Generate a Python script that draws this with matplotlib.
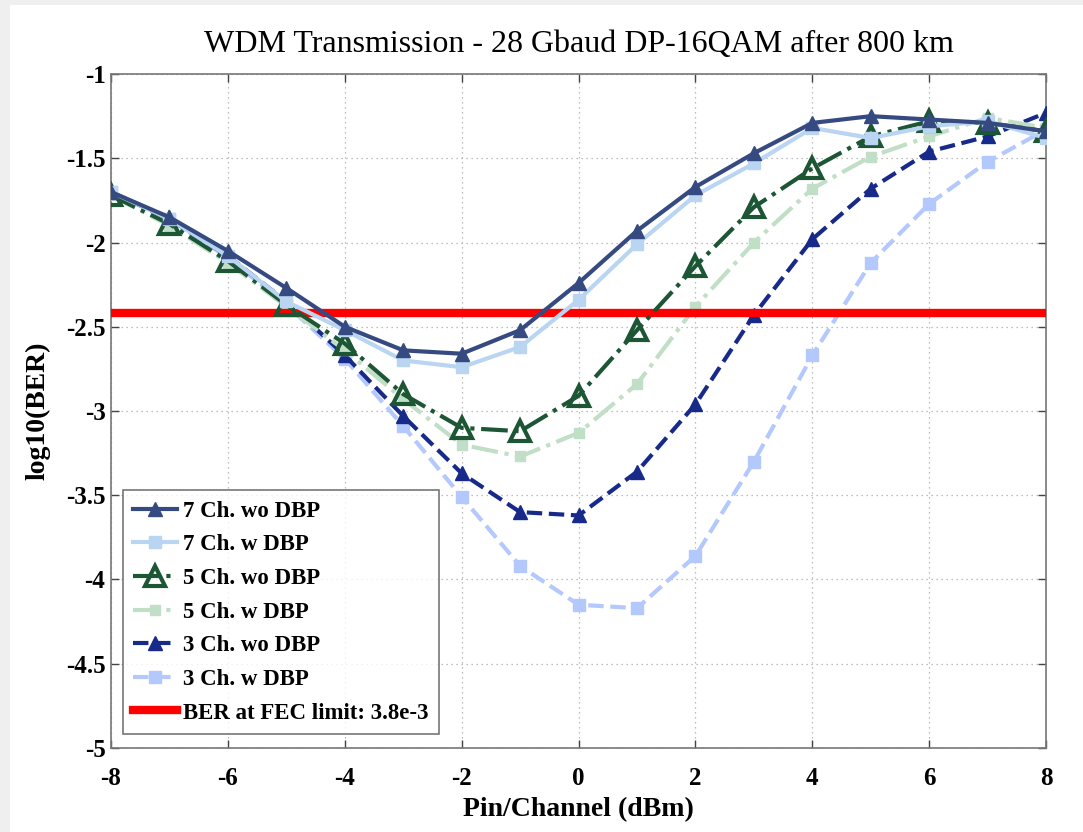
import matplotlib
matplotlib.use("Agg")
import matplotlib.pyplot as plt
from matplotlib.patches import Rectangle
import numpy as np

pin = [-8, -7, -6, -5, -4, -3, -2, -1, 0, 1, 2, 3, 4, 5, 6, 7, 8]

ch7_wo = [-1.70, -1.85, -2.05, -2.27, -2.50, -2.64, -2.66, -2.52, -2.24, -1.93, -1.67, -1.47, -1.29, -1.25, -1.27, -1.29, -1.34]
ch7_w  = [-1.70, -1.86, -2.08, -2.35, -2.52, -2.70, -2.74, -2.62, -2.34, -2.01, -1.72, -1.53, -1.32, -1.38, -1.31, -1.28, -1.38]
ch5_wo = [-1.72, -1.89, -2.11, -2.37, -2.60, -2.90, -3.10, -3.12, -2.91, -2.52, -2.14, -1.79, -1.56, -1.37, -1.28, -1.29, -1.34]
ch5_w  = [-1.72, -1.90, -2.12, -2.38, -2.64, -2.93, -3.20, -3.27, -3.13, -2.84, -2.38, -2.00, -1.68, -1.49, -1.37, -1.26, -1.32]
ch3_wo = [-1.70, -1.86, -2.08, -2.35, -2.67, -3.03, -3.37, -3.60, -3.62, -3.36, -2.96, -2.43, -1.98, -1.68, -1.46, -1.37, -1.23]
ch3_w  = [-1.70, -1.86, -2.09, -2.37, -2.69, -3.09, -3.51, -3.92, -4.15, -4.17, -3.86, -3.30, -2.67, -2.12, -1.77, -1.52, -1.33]
fec_ber = 3.8e-3

labels = ["7 Ch. wo DBP", "7 Ch. w DBP", "5 Ch. wo DBP", "5 Ch. w DBP",
          "3 Ch. wo DBP", "3 Ch. w DBP", "BER at FEC limit: 3.8e-3"]
xticks = [-8, -6, -4, -2, 0, 2, 4, 6, 8]
yticks = [-5, -4.5, -4, -3.5, -3, -2.5, -2, -1.5, -1]
yticklabels = ["-5", "-4.5", "-4", "-3.5", "-3", "-2.5", "-2", "-1.5", "-1"]

plt.rcParams['font.family'] = ['Liberation Serif', 'DejaVu Serif']
plt.rcParams['font.weight'] = 'bold'

fig = plt.figure(figsize=(10.83, 8.32), dpi=100, facecolor='#efefef')
fig.patches.append(Rectangle((10/1083, 0), 1, 1 - 5/832, transform=fig.transFigure,
                             facecolor='white', edgecolor='none', zorder=-10))
ax = fig.add_axes([0.1025, 0.101, 0.8635, 0.810])

lw = 3
ax.plot(pin, ch7_wo, '-', color='#354a80', lw=lw, marker='^', ms=10, mfc='#354a80', mec='#354a80', label=labels[0], zorder=3)
ax.plot(pin, ch7_w, '-', color='#b9d5f2', lw=lw, marker='s', ms=8, mfc='#b9d5f2', mec='#b9d5f2', label=labels[1], zorder=2.9)
ax.plot(pin, ch5_wo, '-.', color='#1d5634', lw=lw, marker='^', ms=14, mfc='none', mec='#1d5634', mew=3, label=labels[2], zorder=2.8)
ax.plot(pin, ch5_w, '-.', color='#c1dec6', lw=lw, marker='s', ms=7, mfc='#c1dec6', mec='#c1dec6', label=labels[3], zorder=2.7)
ax.plot(pin, ch3_wo, '--', color='#172a8a', lw=lw, marker='^', ms=10, mfc='#172a8a', mec='#172a8a', label=labels[4], zorder=2.6)
ax.plot(pin, ch3_w, '--', color='#b3c8fc', lw=lw, marker='s', ms=8, mfc='#b3c8fc', mec='#b3c8fc', label=labels[5], zorder=2.5)
ax.axhline(np.log10(fec_ber), color='#ff0000', lw=6, label=labels[6], zorder=2.75)

ax.set_xlim(-8, 8)
ax.set_ylim(-5, -1)
ax.set_xticks(xticks)
ax.set_xticklabels([str(t) for t in xticks])
ax.set_yticks(yticks)
ax.set_yticklabels(yticklabels)
ax.tick_params(direction='in', top=True, right=True, length=6, width=1, labelsize=18, color='#444444')
ax.tick_params(axis='x', pad=14)
ax.tick_params(axis='y', pad=4)
for s in ax.spines.values():
    s.set_color('#777777')
    s.set_linewidth(1.2)
ax.grid(True, linestyle=(0, (1, 3)), color='#aaaaaa', lw=0.9)
ax.set_axisbelow(True)

ax.set_title("WDM Transmission - 28 Gbaud DP-16QAM after 800 km", fontsize=23, fontweight='normal', pad=16)
ax.set_xlabel("Pin/Channel (dBm)", fontsize=20, fontweight='bold', labelpad=5)
ax.set_ylabel("log10(BER)", fontsize=20, fontweight='bold', labelpad=11)

leg = ax.legend(loc='lower left', bbox_to_anchor=(0.013, 0.021), fontsize=16.5, frameon=True, fancybox=False,
                edgecolor='#555555', handlelength=1.9, borderpad=0.45, labelspacing=0.55, handletextpad=0.25,
                borderaxespad=0)
leg.get_frame().set_linewidth(1.2)

fig.savefig("out.png", dpi=100, facecolor=fig.get_facecolor())
